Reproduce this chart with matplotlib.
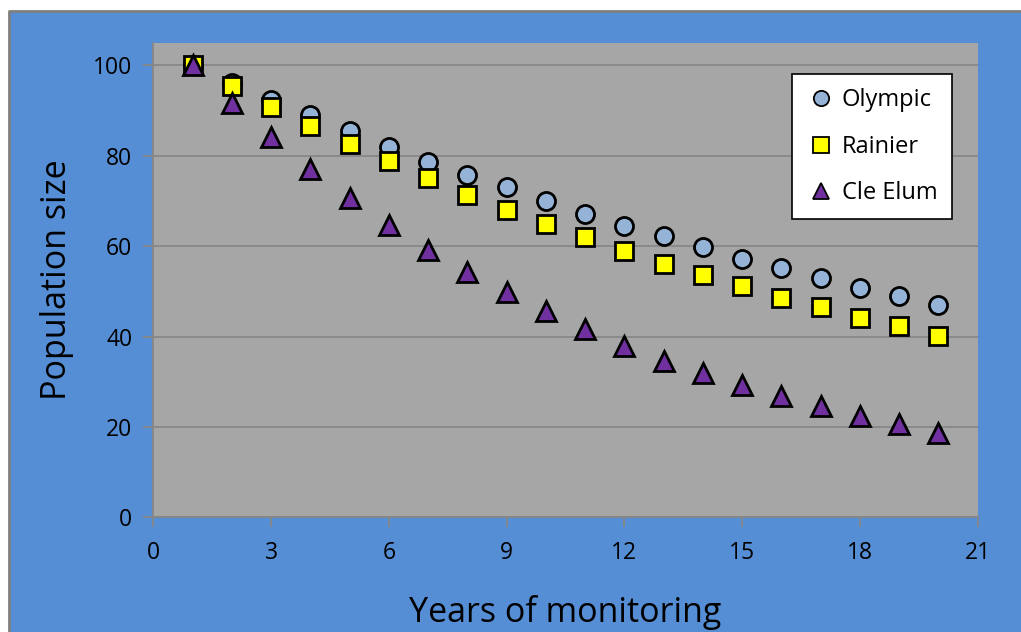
import matplotlib
matplotlib.use('Agg')
import matplotlib.pyplot as plt
from matplotlib.patches import Rectangle
from matplotlib.lines import Line2D

years = list(range(1, 21))
olympic = [100, 96, 92.4, 88.9, 85.4, 81.9, 78.6, 75.8, 73, 70,
           67, 64.5, 62.2, 59.8, 57.2, 55.1, 52.9, 50.8, 49, 47]
rainier = [100, 95.4, 90.7, 86.5, 82.5, 78.8, 75.1, 71.4, 68, 65,
           62, 58.9, 56, 53.6, 51.2, 48.6, 46.6, 44, 42.3, 40.1]
cle_elum = [100, 91.7, 84.2, 77, 70.6, 64.7, 59.2, 54.3, 49.8, 45.6,
            41.6, 37.9, 34.6, 31.9, 29.3, 26.8, 24.6, 22.4, 20.6, 18.7]
x_ticks = [0, 3, 6, 9, 12, 15, 18, 21]
y_ticks = [0, 20, 40, 60, 80, 100]

plt.rcParams['font.family'] = ['Open Sans', 'DejaVu Sans']

W, H = 1021, 632
fig = plt.figure(figsize=(W / 100, H / 100), dpi=100, facecolor='white')
# синий фон области диаграммы, серая рамка только сверху и слева
x0, y1 = 8.5 / W, 1 - 10.5 / H
bg = Rectangle((x0, 0), 1 - x0, y1, transform=fig.transFigure,
               facecolor='#558ED5', edgecolor='none')
bg.set_zorder(-10)
fig.add_artist(bg)
frame = Line2D([x0, x0, 1], [0, y1, y1], transform=fig.transFigure, color='#7F7F7F', linewidth=2)
frame.set_zorder(-9)
fig.add_artist(frame)

ax = fig.add_axes([153.3 / W, 1 - 517.3 / H, (977.7 - 153.3) / W, (517.3 - 42.7) / H])
ax.set_facecolor('#A6A6A6')

ax.plot(years, olympic, 'o', ms=13, mfc='#95B3D7', mec='black', mew=2, label='Olympic', zorder=3)
ax.plot(years, rainier, 's', ms=13, mfc='#FFFF00', mec='black', mew=2, label='Rainier', zorder=4)
ax.plot(years, cle_elum, '^', ms=14, mfc='#7030A0', mec='black', mew=2, label='Cle Elum', zorder=5)

ax.set_xlim(0, 21)
ax.set_ylim(0, 105)
ax.set_xticks(x_ticks)
ax.set_yticks(y_ticks)
ax.grid(axis='y', color='#878787', linewidth=1.3)
ax.set_axisbelow(True)
for s in ['top', 'right']:
    ax.spines[s].set_visible(False)
for s in ['left', 'bottom']:
    ax.spines[s].set_color('#878787')
    ax.spines[s].set_linewidth(1.3)
ax.tick_params(colors='#878787', labelcolor='black', labelsize=16.5, length=7, width=1.3)
ax.tick_params(axis='x', pad=10)
ax.tick_params(axis='y', pad=8)

ax.set_xlabel('Years of monitoring', fontsize=24.5, labelpad=22)
ax.set_ylabel('Population size', fontsize=24.5, labelpad=14)

leg = ax.legend(loc='upper left', bbox_to_anchor=((792.3 - 153.3) / 824.4, 1 - (74.3 - 42.7) / 474.6),
                fontsize=17, frameon=True, fancybox=False, edgecolor='black', framealpha=1,
                borderpad=0.6, labelspacing=0.95, handletextpad=0.3, handlelength=1.2, borderaxespad=0)
leg.get_frame().set_linewidth(1.2)
for h in leg.legend_handles:
    h.set_markersize(11)
    h.set_markeredgewidth(1.3)

fig.savefig('out.png', dpi=100, facecolor='white')
